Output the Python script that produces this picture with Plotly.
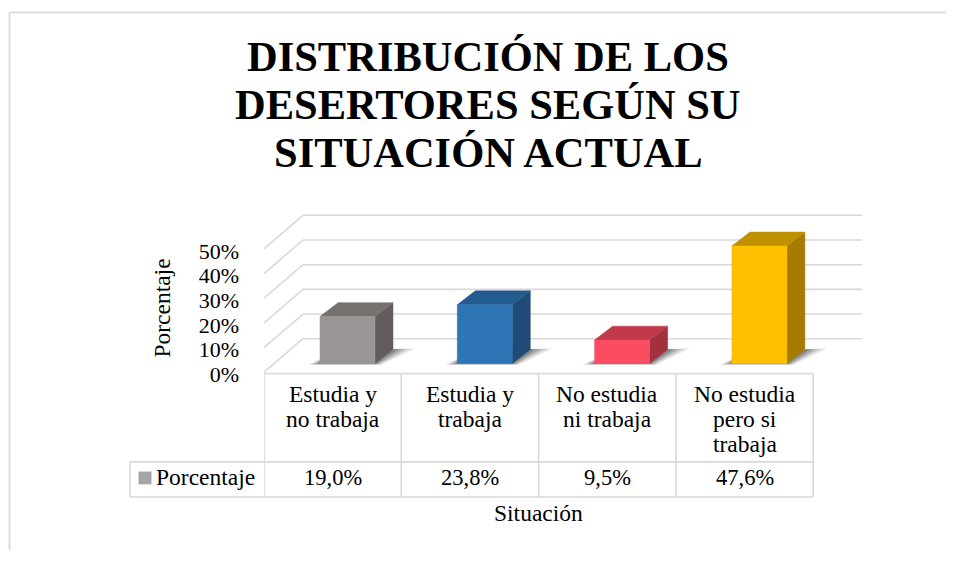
import plotly.graph_objects as go

# ---------------- data ----------------
TITLE_LINES = ["DISTRIBUCIÓN DE LOS", "DESERTORES SEGÚN SU", "SITUACIÓN ACTUAL"]
CATEGORIES = ["Estudia y<br>no trabaja", "Estudia y<br>trabaja",
              "No estudia<br>ni trabaja", "No estudia<br>pero si<br>trabaja"]
VALUES = [19.0, 23.8, 9.5, 47.6]
SERIES_NAME = "Porcentaje"
TICK_VALUES = [0, 10, 20, 30, 40, 50]
TICK_LABELS = ["0%", "10%", "20%", "30%", "40%", "50%"]
Y_TITLE = "Porcentaje"
X_TITLE = "Situación"

FRONT_COLORS = ["#9a9695", "#2e75b6", "#fa4d62", "#ffc000"]
TOP_COLORS = ["#75716f", "#235b8e", "#c0394b", "#bf9000"]
SIDE_COLORS = ["#625d5c", "#1f4b76", "#a2303f", "#a67c00"]

# ---------------- geometry (page pixels) ----------------
PAGE_OFF = 8            # default body margin of the html page (both sides)
W, H = 954 - 2 * PAGE_OFF, 565 - 2 * PAGE_OFF
FONT = "Liberation Serif, Times New Roman, serif"
GRID = "#d9d9d9"
PX_PER_CAT = 137.3
PX_PER_PCT = 2.5
Y_ZERO_PX = 377.0      # front 0%
X_DOM = (264.0, 880.0)
Y_DOM = (385.0, 210.0)
TXT_DY = -2.0           # annotation middle-anchor correction


def px2x(p):
    return p / PX_PER_CAT


def px2y(p):
    return p / PX_PER_PCT


def paper_x(p):
    return (p - PAGE_OFF) / W


def paper_y(p):
    return (PAGE_OFF + H - p) / H


x_range = [-0.5, -0.5 + (X_DOM[1] - X_DOM[0]) / PX_PER_CAT]
y_range = [(Y_ZERO_PX - Y_DOM[0]) / PX_PER_PCT, (Y_ZERO_PX - Y_DOM[1]) / PX_PER_PCT]

FLOOR_DX, FLOOR_DY = px2x(39), px2y(34)
BACK_END = 3.5 + px2x(49)
BAR_LEFT = px2x(56)
BAR_W = px2x(55)
BAR_BASE = px2y(9)
BAR_DX, BAR_DY = px2x(18), px2y(14)

fig = go.Figure()

# walls: back gridlines and left wall diagonals
gx, gy = [], []
for v in TICK_VALUES:
    gx += [-0.5 + FLOOR_DX, BACK_END, None]
    gy += [v + FLOOR_DY, v + FLOOR_DY, None]
    gx += [-0.5, -0.5 + FLOOR_DX, None]
    gy += [v, v + FLOOR_DY, None]
fig.add_trace(go.Scatter(x=gx, y=gy, mode="lines", line=dict(color=GRID, width=1.6),
                         hoverinfo="skip", showlegend=False))


def poly(xs, ys, color, opacity=1.0, lw=0.0):
    fig.add_trace(go.Scatter(x=xs + [xs[0]], y=ys + [ys[0]], mode="lines", fill="toself",
                             fillcolor=color, opacity=opacity,
                             line=dict(color=color, width=lw),
                             hoverinfo="skip", showlegend=False))


# shadows
for i, v in enumerate(VALUES):
    x0 = i - 0.5 + BAR_LEFT
    x1 = x0 + BAR_W
    b = BAR_BASE
    for k, op in [(1.0, 0.10), (0.75, 0.12), (0.5, 0.16), (0.25, 0.2)]:
        poly([x0 - px2x(12) * k, x1 + px2x(6) * k, x1 + BAR_DX + px2x(22) * k, x0 + BAR_DX],
             [b - px2y(1.5) * k, b - px2y(1.5) * k, b + BAR_DY + px2y(1) * k, b + BAR_DY],
             "#000000", opacity=op)

# bars
for i, v in enumerate(VALUES):
    x0 = i - 0.5 + BAR_LEFT
    x1 = x0 + BAR_W
    b = BAR_BASE
    t = b + v
    poly([x1, x1 + BAR_DX, x1 + BAR_DX, x1], [b, b + BAR_DY, t + BAR_DY, t], SIDE_COLORS[i], lw=0.5)
    poly([x0, x1, x1 + BAR_DX, x0 + BAR_DX], [t, t, t + BAR_DY, t + BAR_DY], TOP_COLORS[i], lw=0.5)
    poly([x0, x1, x1, x0], [b, b, t, t], FRONT_COLORS[i], lw=0.5)

# ---------------- table ----------------
shapes = []


def hline(x0, x1, y, xref="paper"):
    if xref == "paper":
        x0, x1 = paper_x(x0), paper_x(x1)
    shapes.append(dict(type="line", xref=xref, yref="paper", x0=x0, x1=x1,
                       y0=paper_y(y), y1=paper_y(y), line=dict(color=GRID, width=1.6)))


def vline(x, y0, y1, xref="paper"):
    if xref == "paper":
        x = paper_x(x)
    shapes.append(dict(type="line", xref=xref, yref="paper", x0=x, x1=x,
                       y0=paper_y(y0), y1=paper_y(y1), line=dict(color=GRID, width=1.6)))


n = len(CATEGORIES)
hline(-0.5, n - 0.5, 378.3, xref="x")
hline(130, 813.3, 467.7)
hline(130, 813.3, 503.3)
vline(130, 467.7, 503.3)
for i in range(n + 1):
    vline(i - 0.5, 378.3, 503.3, xref="x")

# outer chart border
shapes.append(dict(type="line", xref="paper", yref="paper", x0=paper_x(9.5), x1=paper_x(9.5),
                   y0=paper_y(12.5), y1=0, line=dict(color=GRID, width=1.8)))
shapes.append(dict(type="line", xref="paper", yref="paper", x0=paper_x(9.5), x1=1,
                   y0=paper_y(12.5), y1=paper_y(12.5), line=dict(color=GRID, width=1.8)))

# legend key
shapes.append(dict(type="rect", xref="paper", yref="paper", x0=paper_x(138.5), x1=paper_x(151.5),
                   y0=paper_y(477.5), y1=paper_y(490.5), fillcolor="#a6a6a6", line=dict(width=0)))

annotations = []
TXT = dict(family=FONT, size=23.5, color="#000000")
NUM = dict(family=FONT, size=22.5, color="#000000")
for i, cat in enumerate(CATEGORIES):
    for j, line in enumerate(cat.split("<br>")):
        annotations.append(dict(x=i, xref="x", y=paper_y(401 + 25.5 * j + TXT_DY), yref="paper",
                                text=line, showarrow=False, font=TXT,
                                xanchor="center", yanchor="middle"))
    annotations.append(dict(x=i, xref="x", y=paper_y(485.5 + TXT_DY), yref="paper",
                            text=f"{VALUES[i]:.1f}".replace(".", ",") + "%",
                            showarrow=False, font=NUM, xanchor="center", yanchor="middle"))
annotations.append(dict(x=paper_x(154), y=paper_y(485.5 + TXT_DY), xref="paper", yref="paper",
                        text=SERIES_NAME, showarrow=False, font=TXT,
                        xanchor="left", yanchor="middle"))
annotations.append(dict(x=(n - 1) / 2, xref="x", y=paper_y(522 + TXT_DY), yref="paper",
                        text=X_TITLE, showarrow=False, font=TXT,
                        xanchor="center", yanchor="middle"))
annotations.append(dict(x=paper_x(162), y=paper_y(312.5), xref="paper", yref="paper",
                        text=Y_TITLE, textangle=-90, showarrow=False, font=TXT,
                        xanchor="center", yanchor="middle"))
for j, line in enumerate(TITLE_LINES):
    annotations.append(dict(x=paper_x(488), y=paper_y(59.5 + 48.5 * j + TXT_DY), xref="paper",
                            yref="paper", text=f"<b>{line}</b>", showarrow=False,
                            font=dict(family=FONT, size=42.5, color="#000000"),
                            xanchor="center", yanchor="middle"))

fig.update_layout(
    width=W, height=H, margin=dict(l=0, r=0, t=0, b=0),
    paper_bgcolor="white", plot_bgcolor="rgba(0,0,0,0)",
    showlegend=False, shapes=shapes, annotations=annotations,
    xaxis=dict(domain=[paper_x(X_DOM[0]), paper_x(X_DOM[1])], range=x_range,
               visible=False, fixedrange=True),
    yaxis=dict(domain=[paper_y(Y_DOM[0]), paper_y(Y_DOM[1])], range=y_range,
               tickmode="array", tickvals=TICK_VALUES, ticktext=TICK_LABELS,
               ticks="", showgrid=False, ticklabelshift=2,
               zeroline=False, showline=False, ticklabelstandoff=24,
               tickfont=dict(family=FONT, size=22, color="#000000"), fixedrange=True),
)

fig.write_html("out.html")
